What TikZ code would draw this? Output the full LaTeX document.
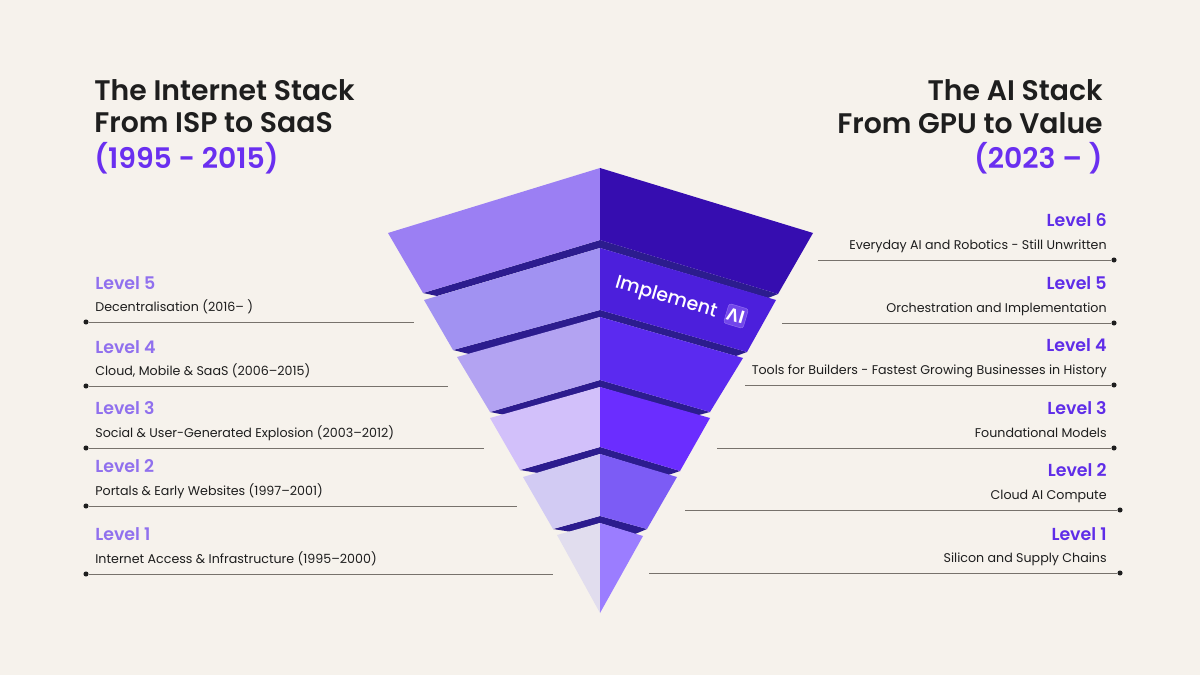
\documentclass[tikz,border=0pt]{standalone}
\usepackage{fontspec}
\setmainfont{Poppins}
\newfontfamily\semifont{Poppins SemiBold}
\newfontfamily\medfont{Poppins Medium}
\newfontfamily\badgefont{Open Sans}
\usepackage{tikz}
\usetikzlibrary{positioning,calc}
\definecolor{pageColor}{HTML}{F6F2EC}
\definecolor{inkColor}{HTML}{1E1E1E}
\definecolor{ruleColor}{HTML}{77726C}
\definecolor{titleColor}{HTML}{6A2FF0}
\definecolor{oldColor}{HTML}{9070EE}
\definecolor{newColor}{HTML}{5F2DE8}
\definecolor{bandColor}{HTML}{2C1C8E}

\begin{document}
\begin{tikzpicture}[
    x=0.02cm, y=-0.02cm,
    headline/.style={font=\fontsize{16.1}{20}\semifont, text=inkColor, inner sep=0pt},
    headyear/.style={headline, text=titleColor},
    oldlevel/.style={font=\fontsize{9.9}{11}\semifont, text=oldColor, anchor=west, inner sep=0pt},
    newlevel/.style={font=\fontsize{9.9}{11}\semifont, text=newColor, anchor=east, inner sep=0pt},
    olddesc/.style={font=\fontsize{7.2}{9}\selectfont, text=inkColor, anchor=west, inner sep=0pt, text height=5.4pt, text depth=1pt},
    newdesc/.style={font=\fontsize{7.2}{9}\selectfont, text=inkColor, anchor=east, inner sep=0pt, text height=5.4pt, text depth=1pt},
    dotmark/.style={circle, fill=inkColor, inner sep=0pt, minimum size=2.9pt},
    leader/.style={draw=ruleColor, line width=0.55pt}
  ]
  \fill[pageColor] (0,0) rectangle (1200,675);
  \useasboundingbox (0,0) rectangle (1200,675);

  % Titles
  \node[headline, anchor=west] (lefttop) at (94,90) {The Internet Stack};
  \node[headline, anchor=west] (leftmid) at (94,123) {From ISP to SaaS};
  \node[headyear, anchor=west] (leftyear) at (94,158) {(1995 - 2015)};
  \node[headline, anchor=east] (righttop) at (1103,90) {The AI Stack};
  \node[headline, anchor=east] (rightmid) at (1103,123) {From GPU to Value};
  \node[headyear, anchor=east] (rightyear) at (1103,158) {(2023 – )};

  % Left half of the funnel
  \fill[fill=bandColor] (600,240)--(423,293)--(437,296)--(600,248)--cycle;
  \fill[fill=bandColor] (600,310)--(453,350)--(473,355)--(600,317)--cycle;
  \fill[fill=bandColor] (600,380)--(490,412)--(505,415)--(600,387)--cycle;
  \fill[fill=bandColor] (600,447)--(520,470)--(538,473)--(600,454)--cycle;
  \fill[fill=bandColor] (600,516)--(553,529)--(572,532)--(600,523)--cycle;
  \fill[fill={rgb,255:red,155;green,127;blue,243}] (600,168)--(388,233)--(423,293)--(600,240)--cycle;
  \fill[fill={rgb,255:red,161;green,146;blue,242}] (600,248)--(424,300)--(453,350)--(600,310)--cycle;
  \fill[fill={rgb,255:red,179;green,163;blue,242}] (600,317)--(457,357)--(490,412)--(600,380)--cycle;
  \fill[fill={rgb,255:red,210;green,192;blue,250}] (600,387)--(490,418)--(520,470)--(600,447)--cycle;
  \fill[fill={rgb,255:red,210;green,203;blue,243}] (600,454)--(523,477)--(553,529)--(600,516)--cycle;
  \fill[fill={rgb,255:red,225;green,221;blue,238}] (600,523)--(557,535)--(600,613)--cycle;

  % Right half of the funnel
  \fill[fill=bandColor] (600,240)--(778,294)--(768,298)--(600,248)--cycle;
  \fill[fill=bandColor] (600,310)--(747,352)--(736,356)--(600,317)--cycle;
  \fill[fill=bandColor] (600,380)--(710,412)--(695,416)--(600,387)--cycle;
  \fill[fill=bandColor] (600,447)--(680,471)--(668,475)--(600,454)--cycle;
  \fill[fill=bandColor] (600,516)--(647,529)--(635,534)--(600,523)--cycle;
  \fill[fill={rgb,255:red,54;green,13;blue,176}] (600,168)--(813,233)--(778,294)--(600,240)--cycle;
  \fill[fill={rgb,255:red,76;green,31;blue,220}] (600,248)--(776,300)--(747,352)--(600,310)--cycle;
  \fill[fill={rgb,255:red,91;green,42;blue,240}] (600,317)--(743,358)--(710,412)--(600,380)--cycle;
  \fill[fill={rgb,255:red,107;green,45;blue,255}] (600,387)--(710,418)--(680,471)--(600,447)--cycle;
  \fill[fill={rgb,255:red,124;green,92;blue,245}] (600,454)--(677,477)--(647,529)--(600,516)--cycle;
  \fill[fill={rgb,255:red,155;green,125;blue,255}] (600,523)--(643,536)--(600,613)--cycle;

  % Logo
  \node[rotate=-16.5, text=white, inner sep=0pt, font=\fontsize{10.8}{12}\medfont] (implement) at (666,298) {Implement};
  \node[rotate=-16.5, fill=newColor!88!white, draw=newColor!70!white, line width=0.3pt, rounded corners=1.5pt, text=white, inner sep=0pt, minimum size=11.5pt, font=\fontsize{10}{10}\badgefont\bfseries] (aibadge) at (736,316) {Λ\kern0.3pt I};

  % Left levels
  \node[oldlevel] (old5) at (95,283) {Level 5};
  \node[olddesc] (olddesc5) at (95,307.5) {Decentralisation (2016– )};
  \node[dotmark] (olddot5) at (86,322) {};
  \coordinate (oldend5) at (414,322);
  \draw[leader] (olddot5)--(oldend5);

  \node[oldlevel] (old4) at (95,347) {Level 4};
  \node[olddesc] (olddesc4) at (95,371.5) {Cloud, Mobile \& SaaS (2006–2015)};
  \node[dotmark] (olddot4) at (86,386) {};
  \coordinate (oldend4) at (448,386);
  \draw[leader] (olddot4)--(oldend4);

  \node[oldlevel] (old3) at (95,408) {Level 3};
  \node[olddesc] (olddesc3) at (95,433.5) {Social \& User-Generated Explosion (2003–2012)};
  \node[dotmark] (olddot3) at (86,448) {};
  \coordinate (oldend3) at (484,448);
  \draw[leader] (olddot3)--(oldend3);

  \node[oldlevel] (old2) at (95,466) {Level 2};
  \node[olddesc] (olddesc2) at (95,491.5) {Portals \& Early Websites (1997–2001)};
  \node[dotmark] (olddot2) at (86,506) {};
  \coordinate (oldend2) at (517,506);
  \draw[leader] (olddot2)--(oldend2);

  \node[oldlevel] (old1) at (95,534) {Level 1};
  \node[olddesc] (olddesc1) at (95,559.5) {Internet Access \& Infrastructure (1995–2000)};
  \node[dotmark] (olddot1) at (86,574) {};
  \coordinate (oldend1) at (553,574);
  \draw[leader] (olddot1)--(oldend1);

  % Right levels
  \node[newlevel] (new6) at (1107,220) {Level 6};
  \node[newdesc] (newdesc6) at (1107,245.5) {Everyday AI and Robotics - Still Unwritten};
  \node[dotmark] (newdot6) at (1114,260) {};
  \coordinate (newend6) at (818,260);
  \draw[leader] (newdot6)--(newend6);

  \node[newlevel] (new5) at (1107,283) {Level 5};
  \node[newdesc] (newdesc5) at (1107,308.5) {Orchestration and Implementation};
  \node[dotmark] (newdot5) at (1114,323) {};
  \coordinate (newend5) at (782,323);
  \draw[leader] (newdot5)--(newend5);

  \node[newlevel] (new4) at (1107,345) {Level 4};
  \node[newdesc] (newdesc4) at (1107,370.5) {Tools for Builders - Fastest Growing Businesses in History};
  \node[dotmark] (newdot4) at (1114,385) {};
  \coordinate (newend4) at (745,385);
  \draw[leader] (newdot4)--(newend4);

  \node[newlevel] (new3) at (1107,408) {Level 3};
  \node[newdesc] (newdesc3) at (1107,433.5) {Foundational Models};
  \node[dotmark] (newdot3) at (1114,448) {};
  \coordinate (newend3) at (717,448);
  \draw[leader] (newdot3)--(newend3);

  \node[newlevel] (new2) at (1107,470) {Level 2};
  \node[newdesc] (newdesc2) at (1107,495.5) {Cloud AI Compute};
  \node[dotmark] (newdot2) at (1120,510) {};
  \coordinate (newend2) at (685,510);
  \draw[leader] (newdot2)--(newend2);

  \node[newlevel] (new1) at (1107,534) {Level 1};
  \node[newdesc] (newdesc1) at (1107,558.5) {Silicon and Supply Chains};
  \node[dotmark] (newdot1) at (1120,573) {};
  \coordinate (newend1) at (649,573);
  \draw[leader] (newdot1)--(newend1);
\end{tikzpicture}
\end{document}
